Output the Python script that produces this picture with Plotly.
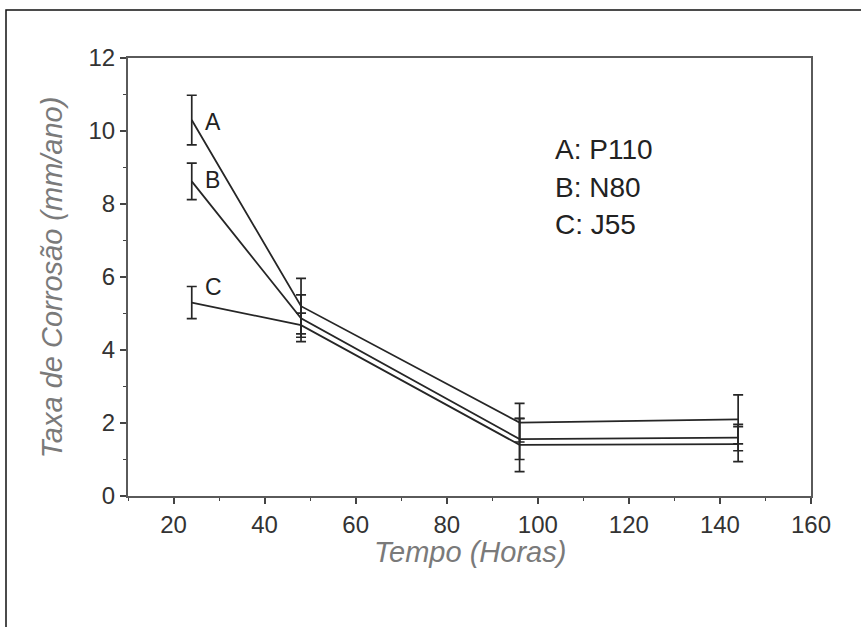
import plotly.graph_objects as go

# Exposure time (hours)
horas = [24, 48, 96, 144]

# Corrosion rate (mm/ano) and spread for each steel grade
taxa_a = [10.3, 5.2, 2.01, 2.1]     # P110
erro_a = [0.68, 0.76, 0.53, 0.67]
taxa_b = [8.62, 4.87, 1.56, 1.6]    # N80
erro_b = [0.5, 0.64, 0.56, 0.36]
taxa_c = [5.3, 4.68, 1.4, 1.42]     # J55
erro_c = [0.44, 0.33, 0.73, 0.48]

rotulos = ["A", "B", "C"]
legenda = ["A: P110", "B: N80", "C: J55"]

x_ticks = [20, 40, 60, 80, 100, 120, 140, 160]
y_ticks = [0, 2, 4, 6, 8, 10, 12]

titulo_x = "Tempo (Horas)"
titulo_y = "Taxa de Corrosão (mm/ano)"

LINE = "#262626"
FONT = "Liberation Sans, Arial, sans-serif"
TITLE_FONT = dict(family=FONT, size=29, color="#7a7a7a")

fig = go.Figure()
for taxa, erro in [(taxa_a, erro_a), (taxa_b, erro_b), (taxa_c, erro_c)]:
    fig.add_trace(go.Scatter(
        x=horas, y=taxa, mode="lines",
        line=dict(color=LINE, width=1.8),
        error_y=dict(type="data", array=erro, visible=True,
                     color=LINE, thickness=1.7, width=5),
        showlegend=False, hoverinfo="skip",
    ))

# Curve letters next to the first point of each curve
for letra, taxa, dy in zip(rotulos, [taxa_a, taxa_b, taxa_c], [-0.05, 0.04, 0.43]):
    fig.add_annotation(x=horas[0], y=taxa[0] + dy, text=letra, showarrow=False,
                       xanchor="left", yanchor="middle", xshift=11,
                       font=dict(family=FONT, size=23, color="#222"))

# Key for the curve letters
for i, txt in enumerate(legenda):
    fig.add_annotation(x=103.3, y=9.48 - i * 1.02, text=txt, showarrow=False,
                       xanchor="left", yanchor="middle",
                       font=dict(family=FONT, size=28, color="#222"))

# Axis titles, placed in paper units
fig.add_annotation(xref="paper", yref="paper", x=0.5, y=-0.128,
                   text=f"<i>{titulo_x}</i>", showarrow=False,
                   xanchor="center", yanchor="middle", font=TITLE_FONT)
fig.add_annotation(xref="paper", yref="paper", x=-0.111, y=0.5,
                   text=f"<i>{titulo_y}</i>", showarrow=False, textangle=-90,
                   xanchor="center", yanchor="middle", font=TITLE_FONT)

# Outer frame of the figure
fig.add_shape(type="rect", xref="paper", yref="paper",
              x0=(6 - 128) / 683, x1=1.2, y0=-0.5, y1=(496 - 10) / 438,
              line=dict(color="#111", width=1.5), fillcolor="rgba(0,0,0,0)",
              layer="below")

axis_common = dict(
    showline=True, linecolor="#5a5a5a", linewidth=2, mirror=True,
    ticks="outside", ticklen=6, tickwidth=1.5, tickcolor="#444",
    showgrid=False, zeroline=False,
    tickfont=dict(family=FONT, size=24, color="#333"),
)

fig.update_xaxes(
    range=[10, 160], tickvals=x_ticks,
    minor=dict(dtick=10, tick0=10, ticks="outside", ticklen=3, tickcolor="#444", tickwidth=1.2),
    **axis_common,
)
fig.update_yaxes(
    range=[0, 12], tickvals=y_ticks,
    minor=dict(dtick=1, tick0=0, ticks="outside", ticklen=3, tickcolor="#444", tickwidth=1.2),
    **axis_common,
)

fig.update_layout(
    width=861, height=627,
    margin=dict(l=128, r=50, t=58, b=131),
    paper_bgcolor="white", plot_bgcolor="white",
)

fig.write_html("out.html")
